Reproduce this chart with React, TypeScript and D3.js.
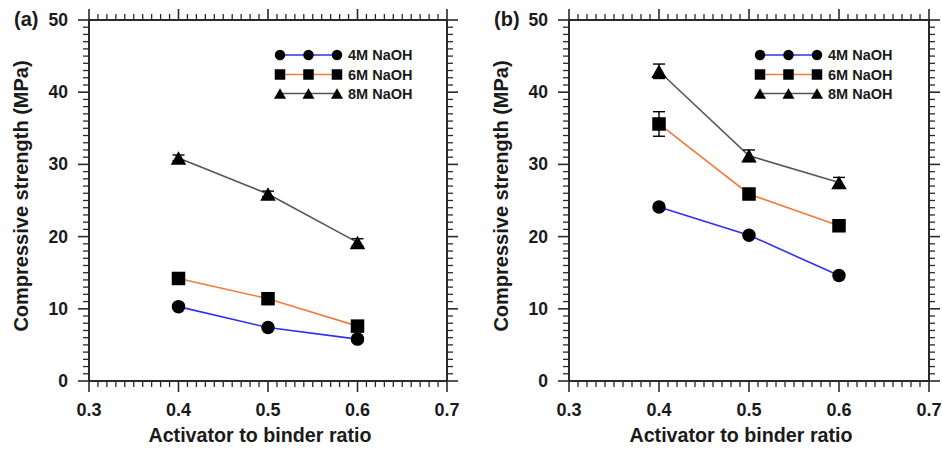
import React from "react";
import * as d3 from "d3";

const xTicks = [0.3, 0.4, 0.5, 0.6, 0.7];
const yTicks = [0, 10, 20, 30, 40, 50];
const ratios = [0.4, 0.5, 0.6];
const seriesNames = ["4M NaOH", "6M NaOH", "8M NaOH"];
const seriesColors = ["#2f2ff2", "#f27b3c", "#555555"];
const seriesShapes = ["circle", "square", "triangle"];

// Panel (a)
const a4M = [10.3, 7.4, 5.8];
const a6M = [14.2, 11.4, 7.6];
const a8M = [30.9, 25.9, 19.2];
const a4Merr = [0.3, 0.3, 0.3];
const a6Merr = [0.4, 0.4, 0.4];
const a8Merr = [0.4, 0.4, 0.5];

// Panel (b)
const b4M = [24.1, 20.2, 14.6];
const b6M = [35.6, 25.9, 21.5];
const b8M = [42.9, 31.2, 27.5];
const b4Merr = [0.3, 0.3, 0.3];
const b6Merr = [1.7, 0.5, 0.4];
const b8Merr = [1.0, 0.8, 0.7];

const FONT = "'Liberation Sans', Arial, sans-serif";
const TXT = "#1a1a1a";

function Marker({ shape, x, y, s }: { shape: string; x: number; y: number; s: number }) {
  if (shape === "circle") return <circle cx={x} cy={y} r={s / 2} fill="#000" />;
  if (shape === "square")
    return <rect x={x - s / 2} y={y - s / 2} width={s} height={s} fill="#000" />;
  const w = s * 1.15;
  const h = s;
  return (
    <path
      d={`M${x},${y - h / 2}L${x + w / 2},${y + h / 2}L${x - w / 2},${y + h / 2}Z`}
      fill="#000"
    />
  );
}

function Panel({
  left,
  right,
  label,
  values,
  errors,
}: {
  left: number;
  right: number;
  label: string;
  values: number[][];
  errors: number[][];
}) {
  const top = 20;
  const bottom = 381;
  const x = d3.scaleLinear().domain([0.3, 0.7]).range([left, right]);
  const y = d3.scaleLinear().domain([0, 50]).range([bottom, top]);
  const xMinor = d3.range(30, 71).map((v) => v / 100).filter((v) => Math.round(v * 100) % 10 !== 0);
  const yMinor = d3.range(0, 51).filter((v) => v % 10 !== 0);
  const line = d3
    .line<number>()
    .x((_, i) => x(ratios[i]))
    .y((d) => y(d));
  const axisColor = "#2a2a2a";
  const minorLen = 6;
  const majorLen = 11;
  const legX = [x(0.3) + 191, x(0.3) + 219.5, x(0.3) + 248];
  const legY = [55, 74.5, 93.5];
  return (
    <g>
      <rect x={left} y={top} width={right - left} height={bottom - top} fill="none" stroke={axisColor} strokeWidth={2} />
      {xMinor.map((v) => (
        <g key={"xm" + v}>
          <line x1={x(v)} x2={x(v)} y1={bottom} y2={bottom + minorLen} stroke={axisColor} strokeWidth={1.3} />
          <line x1={x(v)} x2={x(v)} y1={top} y2={top - minorLen} stroke={axisColor} strokeWidth={1.3} />
        </g>
      ))}
      {xTicks.map((v) => (
        <g key={"xM" + v}>
          <line x1={x(v)} x2={x(v)} y1={bottom} y2={bottom + majorLen} stroke={axisColor} strokeWidth={1.6} />
          <line x1={x(v)} x2={x(v)} y1={top} y2={top - majorLen} stroke={axisColor} strokeWidth={1.6} />
          <text x={x(v)} y={bottom + 35} textAnchor="middle" fontFamily={FONT} fontWeight="bold" fontSize={18} fill={TXT}>
            {v.toFixed(1)}
          </text>
        </g>
      ))}
      {yMinor.map((v) => (
        <g key={"ym" + v}>
          <line x1={left} x2={left - minorLen} y1={y(v)} y2={y(v)} stroke={axisColor} strokeWidth={1.3} />
          <line x1={right} x2={right + minorLen} y1={y(v)} y2={y(v)} stroke={axisColor} strokeWidth={1.3} />
        </g>
      ))}
      {yTicks.map((v) => (
        <g key={"yM" + v}>
          <line x1={left} x2={left - majorLen} y1={y(v)} y2={y(v)} stroke={axisColor} strokeWidth={1.6} />
          <line x1={right} x2={right + majorLen} y1={y(v)} y2={y(v)} stroke={axisColor} strokeWidth={1.6} />
          <text x={left - 21} y={y(v) + 6} textAnchor="end" fontFamily={FONT} fontWeight="bold" fontSize={17.5} fill={TXT}>
            {v}
          </text>
        </g>
      ))}
      <text x={(left + right) / 2 - 8} y={442} textAnchor="middle" fontFamily={FONT} fontWeight="bold" fontSize={19.7} fill={TXT}>
        Activator to binder ratio
      </text>
      <text
        transform={`translate(${left - 61},196) rotate(-90)`}
        textAnchor="middle"
        fontFamily={FONT}
        fontWeight="bold"
        fontSize={20}
        fill={TXT}
      >
        Compressive strength (MPa)
      </text>
      <text x={left - 75} y={26} fontFamily={FONT} fontWeight="bold" fontSize={20} fill={TXT}>
        {label}
      </text>
      {values.map((vals, si) => (
        <g key={"s" + si}>
          <path d={line(vals) || ""} fill="none" stroke={seriesColors[si]} strokeWidth={1.6} />
          {vals.map((v, i) => {
            const e = errors[si][i];
            const cx = x(ratios[i]);
            return (
              <g key={i}>
                <line x1={cx} x2={cx} y1={y(v + e)} y2={y(v - e)} stroke="#000" strokeWidth={1.4} />
                <line x1={cx - 6} x2={cx + 6} y1={y(v + e)} y2={y(v + e)} stroke="#000" strokeWidth={1.4} />
                <line x1={cx - 6} x2={cx + 6} y1={y(v - e)} y2={y(v - e)} stroke="#000" strokeWidth={1.4} />
                <Marker shape={seriesShapes[si]} x={cx} y={y(v)} s={13.5} />
              </g>
            );
          })}
        </g>
      ))}
      {seriesNames.map((name, si) => (
        <g key={"l" + si}>
          <line x1={legX[0]} x2={legX[2]} y1={legY[si]} y2={legY[si]} stroke={seriesColors[si]} strokeWidth={1.5} />
          {legX.map((lx, k) => (
            <Marker key={k} shape={seriesShapes[si]} x={lx} y={legY[si]} s={10.5} />
          ))}
          <text x={legX[2] + 11} y={legY[si] + 5} fontFamily={FONT} fontWeight="bold" fontSize={14.5} fill={TXT}>
            {name}
          </text>
        </g>
      ))}
    </g>
  );
}

export default function App() {
  return (
    <svg
      width={942}
      height={454}
      style={{ position: "absolute", left: 0, top: 0, background: "#fff" }}
    >
      <rect width={942} height={454} fill="#fff" />
      <Panel left={89} right={447} label="(a)" values={[a4M, a6M, a8M]} errors={[a4Merr, a6Merr, a8Merr]} />
      <Panel left={569} right={929} label="(b)" values={[b4M, b6M, b8M]} errors={[b4Merr, b6Merr, b8Merr]} />
    </svg>
  );
}
